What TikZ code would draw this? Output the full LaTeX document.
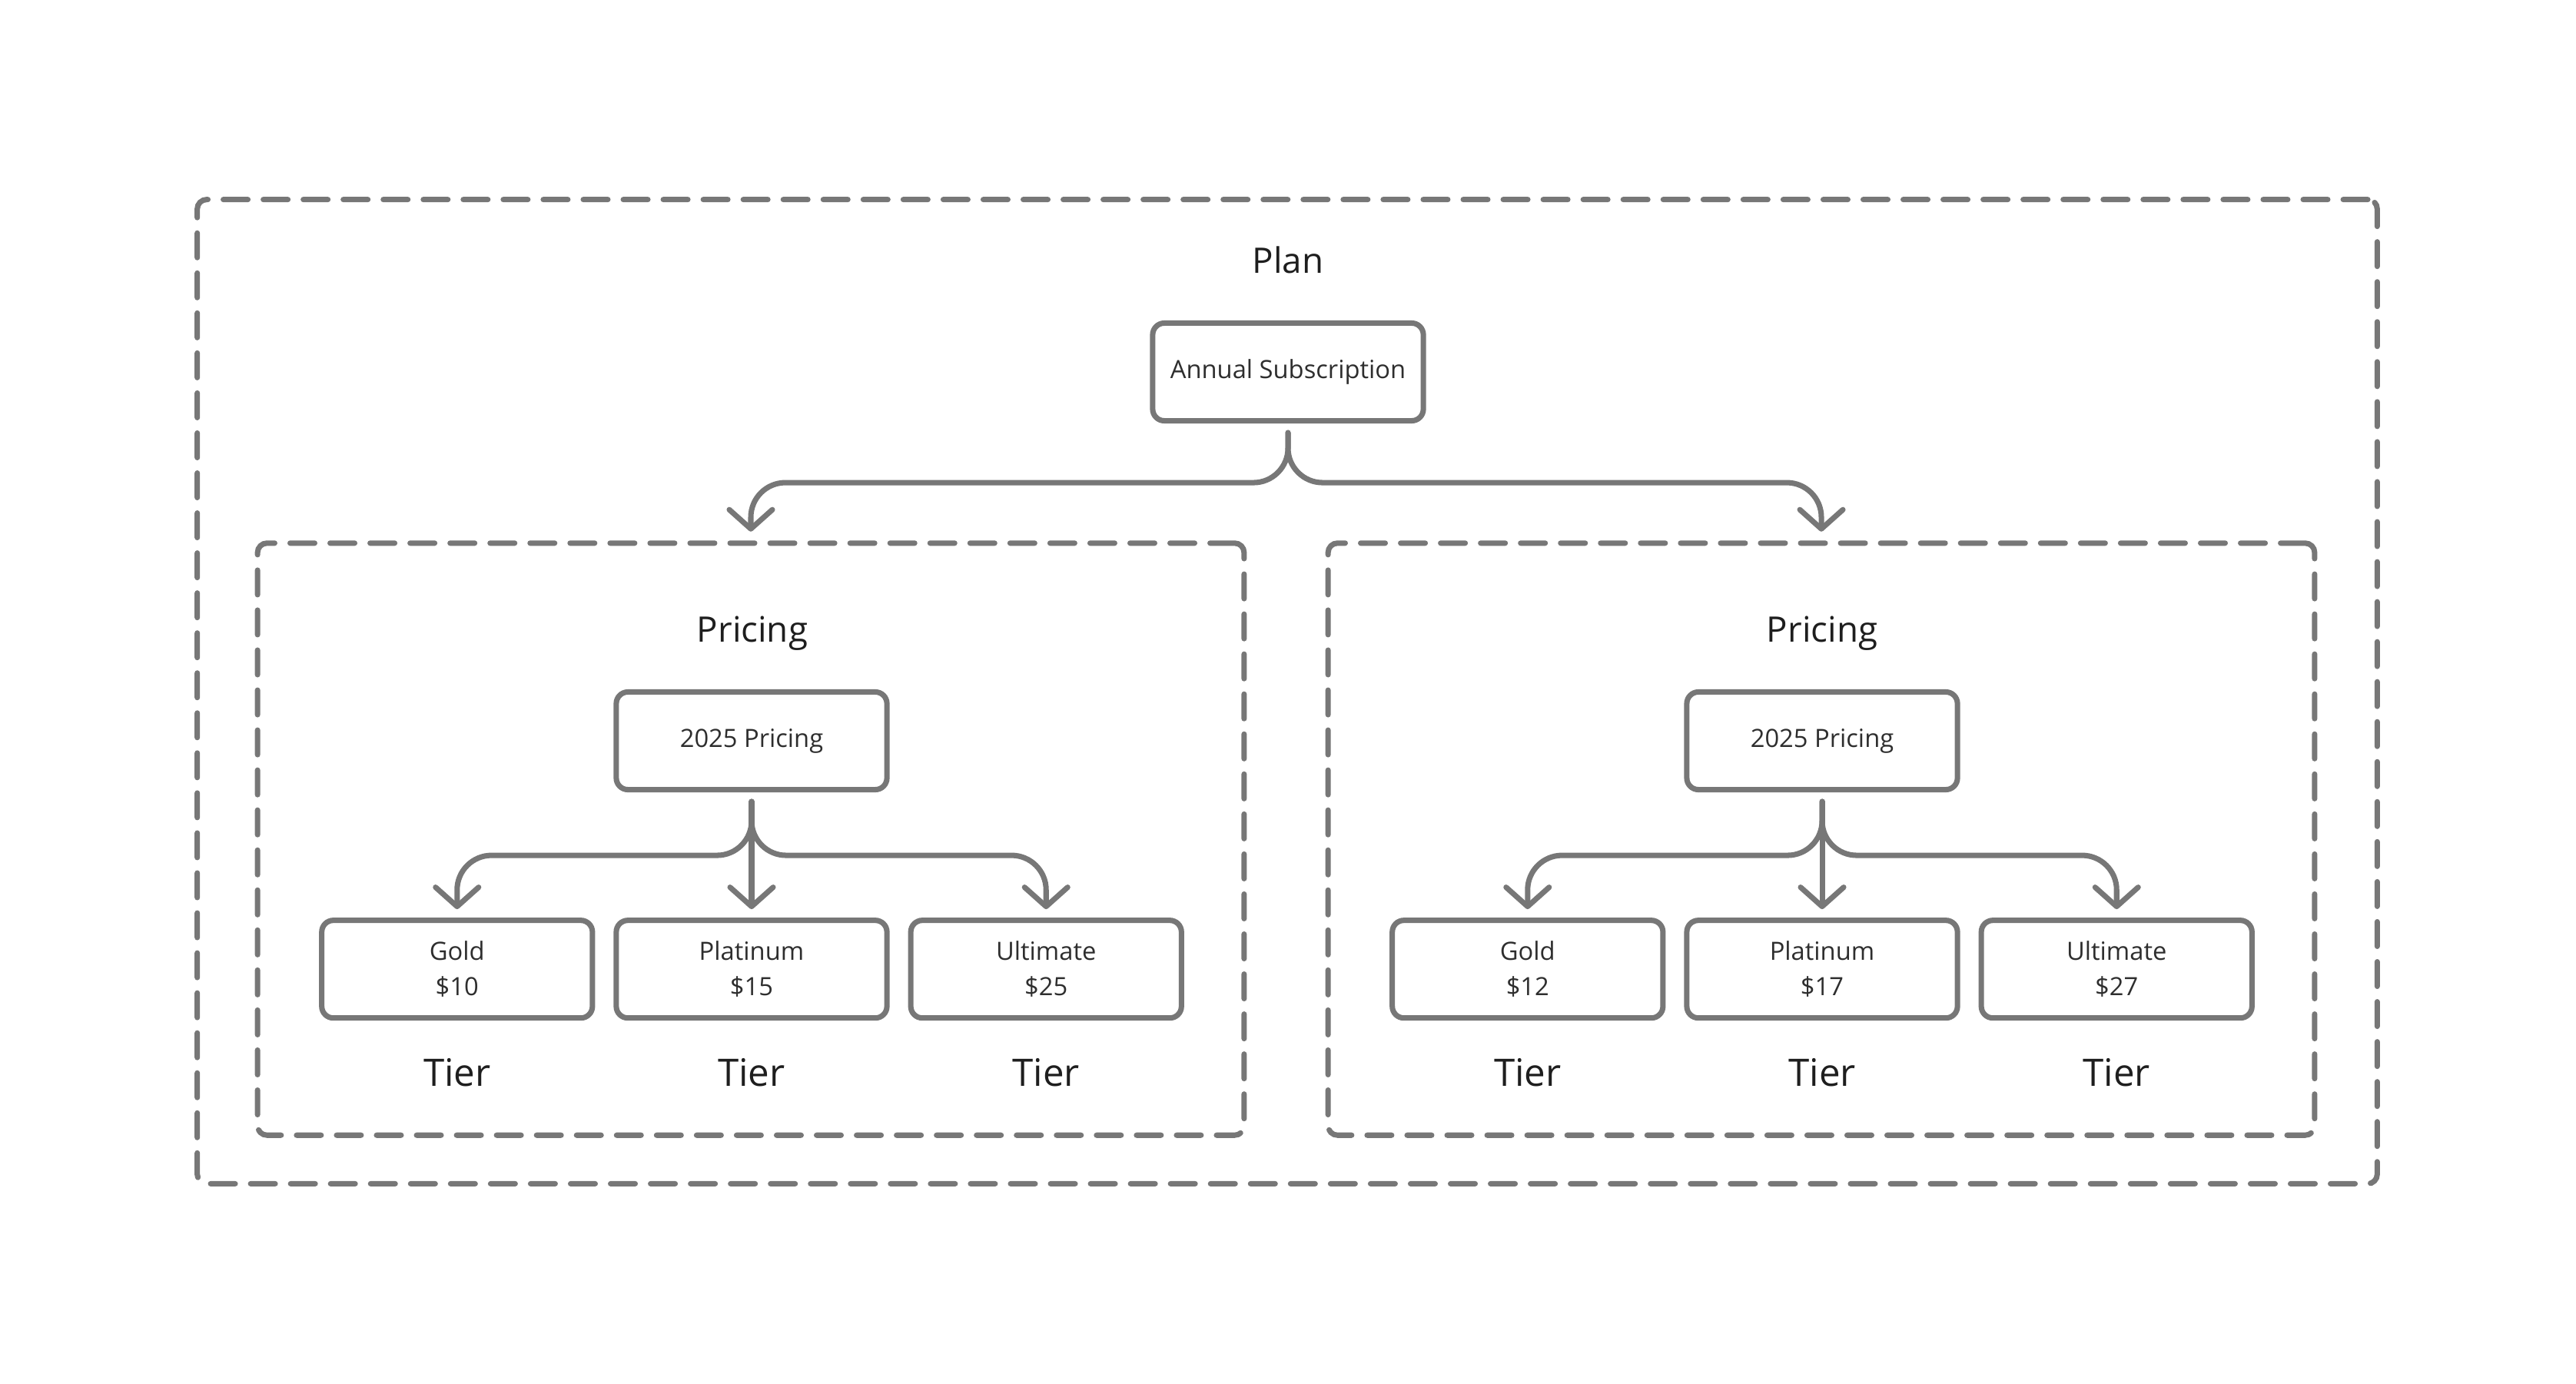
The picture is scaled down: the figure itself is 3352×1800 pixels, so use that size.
\documentclass[tikz,border=0pt]{standalone}
\usepackage{fontspec}
\setmainfont{Open Sans}
\usetikzlibrary{arrows.meta,positioning}
\definecolor{edge}{HTML}{777777}
\definecolor{ink}{HTML}{1E1E1E}
\definecolor{boxink}{HTML}{2E2E2E}

\begin{document}
\begin{tikzpicture}
[x=0.01cm,y=-0.01cm,align=center,node distance=3.83cm]
\tikzstyle{card}=[draw=edge,line width=2pt,rounded corners=4.3pt,fill=white,minimum width=3.52cm,minimum height=1.27cm,inner sep=0pt,text=boxink,font=\fontsize{9.3}{13.1}\selectfont]
\tikzstyle{grp}=[draw=edge,line width=2pt,dash pattern=on 9.1pt off 5.7pt,line cap=round,rounded corners=3.5pt,inner sep=0pt]
\tikzstyle{heading}=[text=ink,inner sep=0pt,text height=9.3pt,text depth=0pt,font=\fontsize{13}{16}\selectfont]
\tikzstyle{tier}=[text=ink,inner sep=0pt,text height=10.2pt,text depth=0pt,font=\fontsize{14}{17}\selectfont]
\tikzstyle{flow}=[draw=edge,line width=2pt,line cap=round,rounded corners=12.8pt,-{Straight Barb[length=0.25cm,width=0.56cm,line cap=round,line join=round]}]

\useasboundingbox (0,0) rectangle (3352,1800);

% outer frame
\node [grp,minimum width=28.35cm,minimum height=12.8cm] (planbox) at (1675,900) {};
\node [heading] (plan) at (1676,339) {Plan};
\node [card] (annual) at (1676,484) {Annual Subscription};

% pricing groups
\node [grp,minimum width=12.83cm,minimum height=7.7cm] (leftgrp) at (977,1092) {};
\node [grp,minimum width=12.83cm,minimum height=7.7cm] (rightgrp) at (2370,1092) {};

\draw [flow,shorten <=0.12cm,shorten >=0.115cm] (annual.south) -- ++(0,77) -| (leftgrp.north);
\draw [flow,shorten <=0.12cm,shorten >=0.115cm] (annual.south) -- ++(0,77) -| (rightgrp.north);

% left group
\node [heading] (pricingL) at (979,819) {Pricing};
\node [card] (yearL) at (978,964) {2025 Pricing};
\node [card,below of=yearL,node distance=2.97cm] (platL) {Platinum\\\$15};
\node [card,left of=platL] (goldL) {Gold\\\$10};
\node [card,right of=platL] (ultL) {Ultimate\\\$25};
\node [tier,below of=goldL,node distance=1.34cm] (tierGL) {Tier};
\node [tier,below of=platL,node distance=1.34cm] (tierPL) {Tier};
\node [tier,below of=ultL,node distance=1.34cm] (tierUL) {Tier};

\draw [flow,shorten <=0.12cm,shorten >=0.11cm] (yearL.south) -- ++(0,82) -| (goldL.north);
\draw [flow,shorten <=0.12cm,shorten >=0.11cm] (yearL.south) -- ++(0,82) -| (ultL.north);
\draw [flow,shorten <=0.12cm,shorten >=0.11cm] (yearL.south) -- (platL.north);

% right group
\node [heading] (pricingR) at (2371,819) {Pricing};
\node [card] (yearR) at (2371,964) {2025 Pricing};
\node [card,below of=yearR,node distance=2.97cm] (platR) {Platinum\\\$17};
\node [card,left of=platR] (goldR) {Gold\\\$12};
\node [card,right of=platR] (ultR) {Ultimate\\\$27};
\node [tier,below of=goldR,node distance=1.34cm] (tierGR) {Tier};
\node [tier,below of=platR,node distance=1.34cm] (tierPR) {Tier};
\node [tier,below of=ultR,node distance=1.34cm] (tierUR) {Tier};

\draw [flow,shorten <=0.12cm,shorten >=0.11cm] (yearR.south) -- ++(0,82) -| (goldR.north);
\draw [flow,shorten <=0.12cm,shorten >=0.11cm] (yearR.south) -- ++(0,82) -| (ultR.north);
\draw [flow,shorten <=0.12cm,shorten >=0.11cm] (yearR.south) -- (platR.north);

\end{tikzpicture}
\end{document}
